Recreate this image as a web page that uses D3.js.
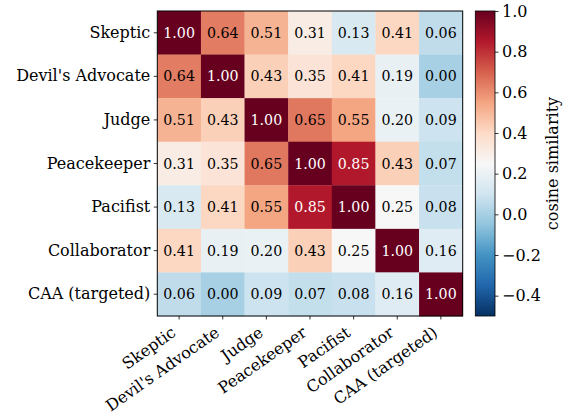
<!DOCTYPE html>
<html><head><meta charset="utf-8">
<script src="https://cdn.jsdelivr.net/npm/d3@7"></script>
<style>
html,body{margin:0;padding:0;background:#fff;}
svg{display:block;font-family:"DejaVu Serif",serif;}
</style></head>
<body><svg id="c" width="568" height="417"></svg>
<script>
const roles = ["Skeptic","Devil's Advocate","Judge","Peacekeeper","Pacifist","Collaborator","CAA (targeted)"];
const simSkeptic      = [1.00,0.64,0.51,0.31,0.13,0.41,0.06];
const simDevil        = [0.64,1.00,0.43,0.35,0.41,0.19,0.00];
const simJudge        = [0.51,0.43,1.00,0.65,0.55,0.20,0.09];
const simPeacekeeper  = [0.31,0.35,0.65,1.00,0.85,0.43,0.07];
const simPacifist     = [0.13,0.41,0.55,0.85,1.00,0.25,0.08];
const simCollaborator = [0.41,0.19,0.20,0.43,0.25,1.00,0.16];
const simCAA          = [0.06,0.00,0.09,0.07,0.08,0.16,1.00];
const colorbarTicks = [-0.4,-0.2,0.0,0.2,0.4,0.6,0.8,1.0];
const vmin = -0.5, vmax = 1.0;
const rdbu_r = ["#053061","#2166ac","#4393c3","#92c5de","#d1e5f0","#f7f7f7","#fddbc7","#f4a582","#d6604d","#b2182b","#67001f"];

const matrix = [simSkeptic,simDevil,simJudge,simPeacekeeper,simPacifist,simCollaborator,simCAA];
const cells = [];
matrix.forEach((row,i)=>row.forEach((v,j)=>cells.push({r:roles[i],c:roles[j],v})));

const svg = d3.select("#c");
const L = 157.3, T = 11, W = 305.4, H = 305;
const FS = 16, FA = 14.2;

const color = d3.scaleLinear()
  .domain(rdbu_r.map((_,i)=>vmin + i*(vmax-vmin)/(rdbu_r.length-1)))
  .range(rdbu_r).interpolate(d3.interpolateRgb).clamp(true);

const x = d3.scaleBand().domain(roles).range([L, L+W]);
const y = d3.scaleBand().domain(roles).range([T, T+H]);

const g = svg.append("g");
g.selectAll("rect.cell").data(cells).enter().append("rect")
  .attr("class","cell")
  .attr("x",d=>x(d.c)).attr("y",d=>y(d.r))
  .attr("width",x.bandwidth()+0.3).attr("height",y.bandwidth()+0.3)
  .attr("fill",d=>color(d.v));

g.selectAll("text.val").data(cells).enter().append("text")
  .attr("class","val")
  .attr("x",d=>x(d.c)+x.bandwidth()/2).attr("y",d=>y(d.r)+y.bandwidth()/2)
  .attr("text-anchor","middle").attr("dy","0.36em")
  .attr("font-size",FA)
  .attr("fill",d=>Math.abs(d.v)>0.7?"#ffffff":"#000000")
  .text(d=>d.v.toFixed(2));

// frame
svg.append("rect").attr("x",L).attr("y",T).attr("width",W).attr("height",H)
  .attr("fill","none").attr("stroke","#000").attr("stroke-width",1);

// y axis
const yAx = svg.append("g").attr("transform",`translate(${L},0)`)
  .call(d3.axisLeft(y).tickSize(3.5).tickPadding(3.5));
yAx.select(".domain").remove();
yAx.selectAll("text").attr("font-size",FS).attr("font-family","DejaVu Serif").attr("fill","#000");
yAx.selectAll("line").attr("stroke","#000").attr("stroke-width",0.8);

// x axis
const xAx = svg.append("g").attr("transform",`translate(0,${T+H})`)
  .call(d3.axisBottom(x).tickSize(3.5).tickPadding(3.5));
xAx.select(".domain").remove();
xAx.selectAll("line").attr("stroke","#000").attr("stroke-width",0.8);
const rot = 35, theta = rot*Math.PI/180;
const asc = FS*0.76, desc = FS*0.24;
xAx.selectAll("text")
  .attr("font-size",FS).attr("font-family","DejaVu Serif").attr("fill","#000")
  .attr("text-anchor","end").attr("dy",null).attr("y",0).attr("x",0)
  .attr("transform",function(d){
    const tx = -desc*Math.sin(theta), ty = 9 + asc*Math.cos(theta);
    return `translate(${tx},${ty}) rotate(${-rot})`;
  });

// colorbar
const cbL = 475.3, cbW = 19.7;
const cy = d3.scaleLinear().domain([vmin,vmax]).range([T+H, T]);
const defs = svg.append("defs");
const grad = defs.append("linearGradient").attr("id","cbgrad")
  .attr("x1",0).attr("y1",1).attr("x2",0).attr("y2",0);
rdbu_r.forEach((c,i)=>grad.append("stop").attr("offset",i/(rdbu_r.length-1)).attr("stop-color",c));
svg.append("rect").attr("x",cbL).attr("y",T).attr("width",cbW).attr("height",H)
  .attr("fill","url(#cbgrad)").attr("stroke","#000").attr("stroke-width",0.8);
const cbAx = svg.append("g").attr("transform",`translate(${cbL+cbW},0)`)
  .call(d3.axisRight(cy).tickValues(colorbarTicks).tickSize(3.5).tickPadding(3.5)
    .tickFormat(v=>d3.format(".1f")(v).replace("-","\u2212")));
cbAx.select(".domain").remove();
cbAx.selectAll("text").attr("font-size",FS).attr("font-family","DejaVu Serif").attr("fill","#000");
cbAx.selectAll("line").attr("stroke","#000").attr("stroke-width",0.8);

svg.append("text")
  .attr("transform",`translate(552,${T+H/2}) rotate(-90)`)
  .attr("text-anchor","middle").attr("dy","0.35em")
  .attr("font-size",FS).attr("fill","#000")
  .text("cosine similarity");
</script>
</body></html>
